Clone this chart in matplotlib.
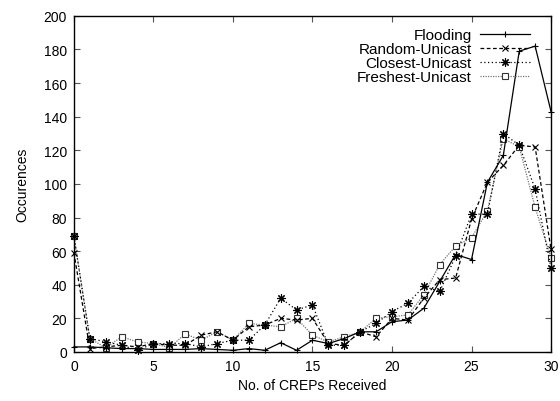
import matplotlib
matplotlib.use("Agg")
import matplotlib.pyplot as plt

plt.rcParams['font.family'] = ['Liberation Sans', 'DejaVu Sans']

x = list(range(0, 31))
flooding = [3, 3, 2.5, 2, 2, 1.5, 1.5, 1.5, 2, 1.5, 1, 2, 1, 5.5, 1, 7, 5, 8, 12, 12,
            18, 19, 26, 42, 58, 55, 101, 117, 179, 182, 143]
random_uni = [59, 2, 3, 4, 3, 5, 4, 4, 10, 12, 7, 15, 16, 20, 19, 20, 5, 4, 12, 9,
              20, 19, 32, 43, 44, 79, 101, 111, 123, 122, 61]
closest = [69, 8, 6, 4, 1, 5, 5, 5, 3, 5, 7, 7, 16, 32, 25, 28, 4, 4, 12, 17,
           24, 29, 39, 36, 57, 82, 82, 130, 123, 97, 50]
freshest = [69, 8, 2.5, 9, 6, 5, 2.5, 10.7, 7, 12, 7, 17, 16, 15, 20, 10, 6, 9, 12, 20,
            21, 22, 34, 52, 63, 68, 84, 127, 122, 86, 56]

fig = plt.figure(figsize=(5.6, 4.02), dpi=100)
ax = fig.add_axes([0.132, 0.122, 0.852, 0.836])

ax.plot(x, flooding, color='black', lw=0.9, ls='-', marker='+', ms=5, mew=0.8,
        label='Flooding', clip_on=False, zorder=4)
ax.plot(x, random_uni, color='black', lw=0.9, ls=(0, (3, 2)), marker='x', ms=5, mew=0.8,
        label='Random-Unicast', clip_on=False, zorder=3)
ax.plot(x, closest, color='black', lw=0.9, ls=(0, (1, 2)), marker=(8, 2, 0), ms=6, mew=0.8,
        label='Closest-Unicast', clip_on=False, zorder=3)
ax.plot(x, freshest, color='#777777', lw=0.9, ls=(0, (1, 1)), marker='s', ms=5, mew=0.8,
        mfc='white', mec='#333333', label='Freshest-Unicast', clip_on=False, zorder=2)

ax.set_xlim(0, 30)
ax.set_ylim(0, 200)
ax.set_xticks(range(0, 31, 5))
ax.set_yticks(range(0, 201, 20))
ax.tick_params(direction='in', length=4, width=0.8, color='#555555', labelsize=10,
               top=True, right=True, pad=5)
for s in ax.spines.values():
    s.set_linewidth(1.0)

ax.set_xlabel('No. of CREPs Received', fontsize=10, labelpad=4)
ax.set_ylabel('Occurences', fontsize=10, labelpad=10)

ax.legend(loc='upper right', bbox_to_anchor=(0.975, 0.99), frameon=False, fontsize=11,
          markerfirst=False, numpoints=1, handlelength=3.3, handletextpad=0.5,
          labelspacing=0.0, borderaxespad=0.2)

fig.savefig('out.png', dpi=100)
